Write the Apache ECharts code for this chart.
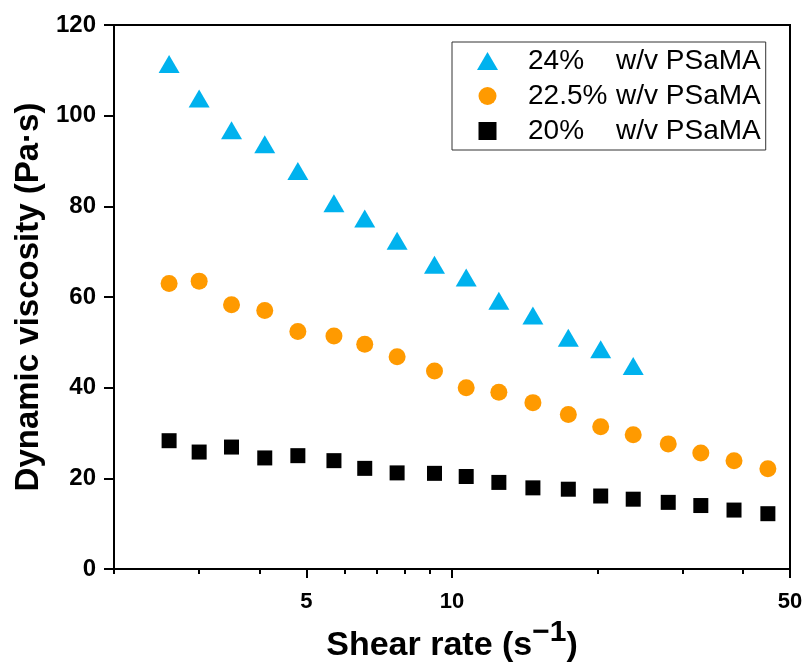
<!DOCTYPE html>
<html>
<head>
<meta charset="utf-8">
<script src="https://cdn.jsdelivr.net/npm/echarts@6/dist/echarts.min.js"></script>
<style>
    html, body {margin: 0; padding: 0; background: #ffffff;}
    #viscosityChart {width: 805px; height: 662px;}
</style>
</head>
<body>
<div id="viscosityChart"></div>
<script>
// shear rate (1/s)
var shearRate = [2.6, 3.0, 3.5, 4.1, 4.8, 5.7, 6.6, 7.7, 9.2, 10.7, 12.5, 14.7, 17.4, 20.3, 23.7, 28.0, 32.7, 38.3, 45.0];

var visc24 = [111.4, 103.8, 96.8, 93.7, 87.8, 80.7, 77.3, 72.4, 67.1, 64.3, 59.2, 55.9, 51.0, 48.5, 44.8];
var visc225 = [63.0, 63.5, 58.3, 57.0, 52.4, 51.4, 49.6, 46.8, 43.7, 40.0, 39.0, 36.7, 34.1, 31.4, 29.6, 27.6, 25.6, 23.9, 22.1];
var visc20 = [28.3, 25.8, 26.9, 24.5, 25.0, 23.9, 22.2, 21.2, 21.1, 20.4, 19.1, 17.9, 17.6, 16.1, 15.4, 14.7, 14.0, 13.0, 12.2];

var seriesNames = ['24% w/v PSaMA', '22.5% w/v PSaMA', '20% w/v PSaMA'];
var majorTicks = [5, 10, 50];
var minorTicks = [2, 3, 4, 6, 7, 8, 9, 20, 30, 40];

var fontName = 'Liberation Sans';

function pairUp(ys) {
    var out = [];
    for (var i = 0; i < ys.length; i++) {
        out.push([shearRate[i], ys[i]]);
    }
    return out;
}

var chart = echarts.init(document.getElementById('viscosityChart'), null, {renderer: 'canvas'});

var option = {
    animation: false,
    backgroundColor: '#ffffff',
    grid: {
        left: 114,
        right: 15,
        top: 25,
        bottom: 93,
        containLabel: false,
        outerBoundsMode: 'none',
        show: true,
        borderColor: '#000000',
        borderWidth: 2,
        backgroundColor: 'transparent'
    },
    legend: {
        orient: 'vertical',
        left: 452,
        top: 42,
        padding: [5, 5, 5, 25],
        itemWidth: 21,
        itemHeight: 18,
        itemGap: 7,
        symbolKeepAspect: true,
        borderColor: '#333333',
        borderWidth: 1,
        data: [
            {name: seriesNames[0], icon: 'path://M0,18L10.5,0L21,18Z'},
            {name: seriesNames[1], icon: 'circle'},
            {name: seriesNames[2], icon: 'path://M0,0L15,0L15,15L0,15Z'}
        ],
        formatter: function (name) {
            var cut = name.indexOf(' ');
            return '{p|' + name.slice(0, cut) + '}{q|' + name.slice(cut + 1) + '}';
        },
        textStyle: {
            fontFamily: fontName,
            fontSize: 28,
            color: '#000000',
            padding: [0, 0, 0, 25],
            rich: {
                p: {width: 88, fontSize: 28, fontFamily: fontName, color: '#000000', lineHeight: 28},
                q: {fontSize: 28, fontFamily: fontName, color: '#000000', lineHeight: 28}
            }
        }
    },
    xAxis: [
        {
            type: 'log',
            logBase: 10,
            min: 2,
            max: 50,
            position: 'bottom',
            name: '{m|Shear rate (s}{sup|\u22121}{m|)}',
            nameLocation: 'middle',
            nameGap: 57,
            nameTextStyle: {
                fontFamily: fontName,
                fontWeight: 'bold',
                fontSize: 34,
                color: '#000000',
                rich: {
                    m: {fontFamily: fontName, fontWeight: 'bold', fontSize: 34, color: '#000000', lineHeight: 34, verticalAlign: 'bottom'},
                    sup: {fontFamily: fontName, fontWeight: 'bold', fontSize: 30, color: '#000000', lineHeight: 30, padding: [0, 0, 15, 0], verticalAlign: 'bottom'}
                }
            },
            axisLine: {show: true, lineStyle: {color: '#000000', width: 2}},
            axisTick: {show: true, customValues: majorTicks, length: 9, lineStyle: {color: '#000000', width: 2}},
            axisLabel: {
                show: true,
                customValues: majorTicks,
                margin: 22,
                fontFamily: fontName,
                fontWeight: 'bold',
                fontSize: 22,
                color: '#000000'
            },
            splitLine: {show: false},
            minorTick: {show: false}
        },
        {
            type: 'log',
            logBase: 10,
            min: 2,
            max: 50,
            position: 'bottom',
            offset: 0,
            axisLine: {show: false},
            axisTick: {show: true, customValues: minorTicks, length: 5, lineStyle: {color: '#000000', width: 2}},
            axisLabel: {show: false},
            splitLine: {show: false}
        }
    ],
    yAxis: {
        type: 'value',
        min: 0,
        max: 120,
        interval: 20,
        name: 'Dynamic viscosity (Pa\u00b7s)',
        nameLocation: 'middle',
        nameGap: 62,
        nameTextStyle: {
            fontFamily: fontName,
            fontWeight: 'bold',
            fontSize: 33,
            color: '#000000'
        },
        axisLine: {show: true, lineStyle: {color: '#000000', width: 2}},
        axisTick: {show: true, length: 10, lineStyle: {color: '#000000', width: 2}},
        axisLabel: {
            margin: 18,
            fontFamily: fontName,
            fontWeight: 'bold',
            fontSize: 24,
            color: '#000000'
        },
        splitLine: {show: false}
    },
    series: [
        {
            name: seriesNames[0],
            type: 'scatter',
            symbol: 'triangle',
            symbolSize: [21, 18],
            itemStyle: {color: '#00b2ee', opacity: 1},
            data: pairUp(visc24)
        },
        {
            name: seriesNames[1],
            type: 'scatter',
            symbol: 'circle',
            symbolSize: 17,
            itemStyle: {color: '#ff9a00', opacity: 1},
            data: pairUp(visc225)
        },
        {
            name: seriesNames[2],
            type: 'scatter',
            symbol: 'rect',
            symbolSize: 15,
            itemStyle: {color: '#000000', opacity: 1},
            data: pairUp(visc20)
        }
    ]
};

chart.setOption(option);
</script>
</body>
</html>
